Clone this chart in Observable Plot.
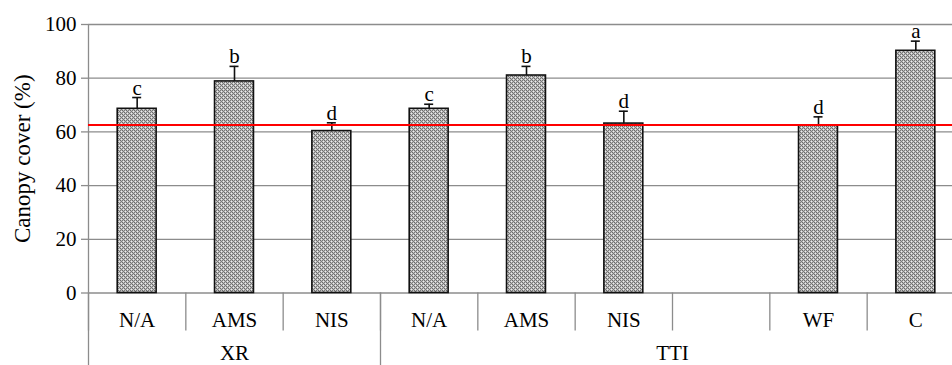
<!DOCTYPE html>
<html>
<head>
<meta charset="utf-8">
<script src="https://cdn.jsdelivr.net/npm/d3@7"></script>
<script src="https://cdn.jsdelivr.net/npm/@observablehq/plot@0.6"></script>
<style>
  html, body { margin: 0; padding: 0; background: #fff; overflow: hidden; }
  #chart svg { overflow: hidden; font-family: 'Liberation Serif', 'Times New Roman', serif !important; }
  #chart svg text, #chart svg g { font-family: 'Liberation Serif', 'Times New Roman', serif !important; }
</style>
</head>
<body>
<svg width="0" height="0" style="position:absolute">
  <defs>
    <pattern id="hatch" width="4" height="4" patternUnits="userSpaceOnUse">
      <rect width="4" height="4" fill="#bdbdbd"/>
      <rect x="0" y="0" width="1" height="1" fill="#6a6a6a"/>
      <rect x="2" y="0" width="1" height="1" fill="#7a7a7a"/>
      <rect x="1" y="1" width="1" height="1" fill="#7a7a7a"/>
      <rect x="3" y="1" width="1" height="1" fill="#ececec"/>
      <rect x="0" y="2" width="1" height="1" fill="#7a7a7a"/>
      <rect x="2" y="2" width="1" height="1" fill="#6a6a6a"/>
      <rect x="1" y="3" width="1" height="1" fill="#ececec"/>
      <rect x="3" y="3" width="1" height="1" fill="#7a7a7a"/>
    </pattern>
  </defs>
</svg>
<div id="chart"></div>
<script>
const groups = ["XR", "XR", "XR", "TTI", "TTI", "TTI", "TTI", "TTI", "TTI"];
const categories = ["N/A", "AMS", "NIS", "N/A", "AMS", "NIS", "", "WF", "C"];
const values = [68.6, 78.8, 60.3, 68.6, 81.0, 63.1, null, 62.3, 90.2];
const errors = [4.2, 5.6, 3.1, 1.7, 3.4, 4.6, null, 3.3, 3.6];
const letters = ["c", "b", "d", "c", "b", "d", "", "d", "a"];
const reference = 62.6;
const yTicks = [0, 20, 40, 60, 80, 100];
const yLabel = "Canopy cover (%)";

const data = values.map((v, i) => ({i, v, e: errors[i], top: v == null ? null : v + errors[i], letter: letters[i]}))
  .filter(d => d.v != null);

const groupNames = [...new Set(groups)];
const groupCenters = groupNames.map(g => {
  const first = groups.indexOf(g), last = groups.lastIndexOf(g);
  return (first + last + 1) / 2;
});
const groupEdges = [0, ...groupNames.map(g => groups.lastIndexOf(g) + 1)];

const font = "'Liberation Serif', 'Times New Roman', serif";
const grey = "#8c8c8c";
const fs = 21;

const chart = Plot.plot({
  width: 952,
  height: 365,
  marginLeft: 88,
  marginRight: 0,
  marginTop: 24,
  marginBottom: 72.5,
  style: {fontFamily: font, fontSize: fs + "px", color: "black", background: "white"},
  x: {type: "linear", domain: [0, categories.length], range: [88, 964]},
  y: {domain: [0, 100], range: [292.5, 24]},
  marks: [
    Plot.gridY(yTicks.slice(1), {stroke: grey, strokeOpacity: 1, strokeWidth: 1.3}),
    Plot.ruleY([0], {stroke: grey, strokeWidth: 1.3}),
    Plot.ruleX([0], {stroke: grey, strokeWidth: 1.3}),
    Plot.axisY({ticks: yTicks, tickSize: 7, tickPadding: 5, stroke: grey, fontSize: fs, fontFamily: font, label: null, strokeWidth: 1.3}),
    Plot.axisX({ticks: d3.range(categories.length + 1), tickSize: 38, tickFormat: () => "", stroke: grey, strokeWidth: 1.3, label: null}),
    Plot.axisX({ticks: groupEdges, tickSize: 73, tickFormat: () => "", stroke: grey, strokeWidth: 1.3, label: null}),
    Plot.axisX({ticks: categories.map((c, i) => i + 0.5), tickSize: 0, tickPadding: 19, tickFormat: t => categories[Math.floor(t)], fontSize: fs, fontFamily: font, label: null}),
    Plot.axisX({ticks: groupCenters, tickSize: 0, tickPadding: 52.5, tickFormat: t => groupNames[groupCenters.indexOf(t)], fontSize: fs, fontFamily: font, label: null}),
    Plot.rectY(data, {x1: d => d.i, x2: d => d.i + 1, y1: 0, y2: "v", insetLeft: 29.2, insetRight: 29.2, fill: "url(#hatch)", stroke: "#111", strokeWidth: 1.6}),
    Plot.ruleX(data, {x: d => d.i + 0.5, y1: "v", y2: "top", stroke: "#111", strokeWidth: 1.6}),
    Plot.ruleY(data, {y: "top", x1: d => d.i + 0.5, x2: d => d.i + 0.5, insetLeft: -4.5, insetRight: -4.5, stroke: "#111", strokeWidth: 1.6}),
    Plot.ruleY([reference], {stroke: "#ff0000", strokeWidth: 2}),
    Plot.text(data, {x: d => d.i + 0.5, y: "top", text: "letter", lineAnchor: "bottom", dy: -3, fontSize: fs, fontFamily: font, fill: "black"}),
    Plot.text([yLabel], {frameAnchor: "left", textAnchor: "middle", rotate: -90, dx: -66, fontSize: 23, fontFamily: font, fill: "black"})
  ]
});
document.getElementById("chart").appendChild(chart);
</script>
</body>
</html>
